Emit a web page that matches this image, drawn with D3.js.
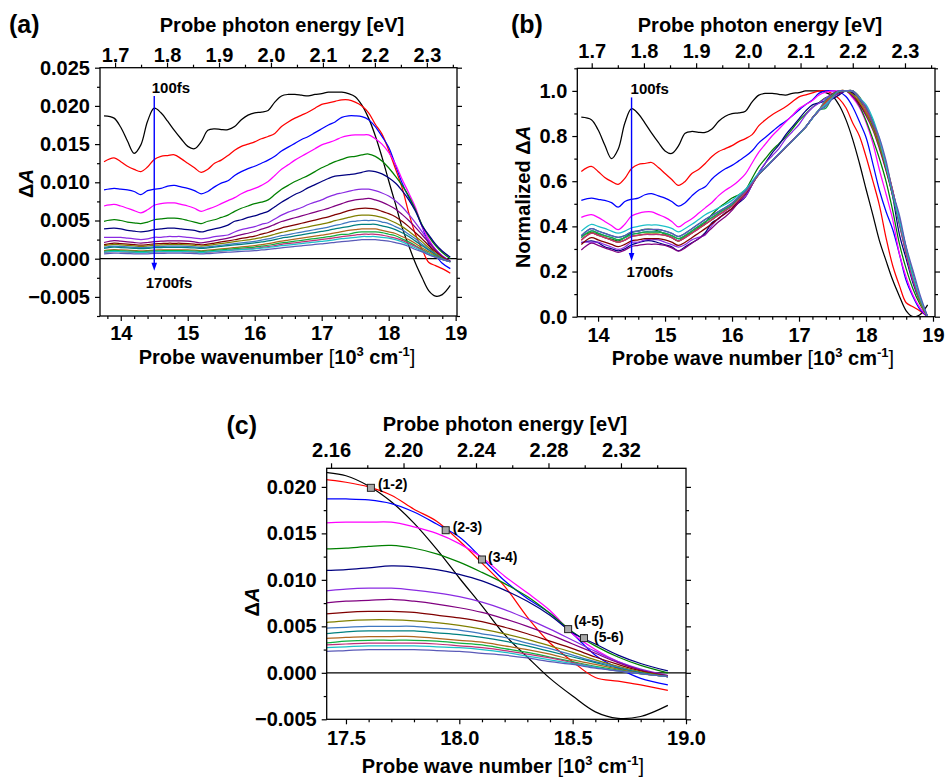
<!DOCTYPE html>
<html>
<head>
<meta charset="utf-8">
<script src="https://cdn.jsdelivr.net/npm/d3@7"></script>
<style>
  body { margin: 0; background: #fff; }
  svg text { font-family: "Liberation Sans", Arial, Helvetica, sans-serif; font-weight: bold; fill: #000; }
</style>
</head>
<body>
<svg id="fig" width="946" height="778"></svg>
<script>
// ---------- data ----------
// probe wavenumber grid, 10^3 cm^-1
const wavenumber = [13.75, 13.9, 14.0, 14.1, 14.2, 14.3, 14.4, 14.5, 14.6, 14.7, 14.8, 14.9, 15.0, 15.1, 15.2, 15.3, 15.4, 15.5, 15.6,
  15.7, 15.8, 15.9, 16.0, 16.1, 16.2, 16.3, 16.4, 16.5, 16.6, 16.7, 16.8, 16.9, 17.0, 17.1, 17.2, 17.3,
  17.4, 17.5, 17.6, 17.7, 17.8, 17.9, 18.0, 18.1, 18.2, 18.3, 18.4, 18.5, 18.6, 18.7, 18.8, 18.92];

// transient absorption ΔA (×10^-3) for each pump-probe delay
const dA100 = [18.7, 18.4, 17.2, 15.4, 13.8, 14.9, 18.0, 19.7, 19.1, 18.0, 16.8, 15.7, 14.7, 14.4, 15.3, 16.8, 17.0, 16.9, 16.9,
  17.3, 18.2, 18.8, 19.1, 19.2, 19.4, 20.5, 21.3, 21.5, 21.5, 21.4, 21.3, 21.5, 21.6, 21.8, 21.8, 21.8,
  21.6, 21.2, 20.1, 18.4, 16.1, 13.3, 10.2, 7.2, 4.1, 1.7, -0.6, -2.5, -4.2, -4.9, -4.7, -3.5];
const dA200 = [12.7, 13.2, 12.7, 12.1, 11.7, 11.4, 12.0, 13.0, 13.4, 13.5, 13.6, 13.1, 12.5, 11.9, 11.3, 11.7, 12.5, 12.9, 13.5,
  14.2, 14.7, 15.0, 15.3, 15.7, 16.0, 16.4, 17.3, 17.9, 18.4, 18.8, 19.2, 19.7, 20.2, 20.4, 20.6, 20.8,
  20.8, 20.5, 20.0, 19.1, 17.6, 16.3, 14.2, 11.8, 9.3, 6.0, 3.2, 1.2, -0.5, -0.9, -1.3, -1.9];
const dA300 = [9.0, 9.2, 9.1, 9.0, 8.8, 8.4, 8.9, 9.1, 9.2, 9.5, 9.6, 9.4, 9.2, 8.9, 8.5, 8.8, 9.4, 9.9, 10.2,
  10.9, 11.4, 11.8, 12.1, 12.5, 12.9, 13.4, 14.1, 14.6, 15.1, 15.6, 16.0, 16.5, 17.0, 17.5, 17.9, 18.5,
  18.7, 18.7, 18.6, 18.2, 17.3, 16.0, 14.6, 12.3, 9.9, 8.0, 6.4, 4.2, 1.9, 0.5, -0.6, -1.3];
const dA400 = [6.9, 7.1, 6.9, 6.6, 6.3, 6.0, 6.4, 7.0, 7.2, 7.3, 7.3, 7.1, 6.9, 6.6, 6.2, 6.5, 6.8, 7.2, 7.6,
  8.0, 8.5, 8.9, 9.2, 9.6, 10.1, 10.9, 11.7, 12.3, 12.9, 13.4, 13.9, 14.4, 14.9, 15.2, 15.5, 15.9,
  16.1, 16.2, 16.2, 16.2, 15.7, 15.0, 13.9, 12.4, 10.4, 8.6, 6.7, 4.2, 2.5, 1.2, 0.3, -0.4];
const dA500 = [4.9, 5.1, 5.0, 4.8, 4.7, 4.6, 4.8, 5.1, 5.2, 5.3, 5.3, 5.2, 5.0, 4.8, 4.6, 4.9, 5.1, 5.4, 5.7,
  6.2, 6.6, 6.9, 7.2, 7.4, 7.7, 8.4, 9.1, 9.6, 10.1, 10.5, 10.9, 11.4, 11.9, 12.3, 12.7, 13.0,
  13.3, 13.4, 13.6, 13.7, 13.4, 12.8, 11.9, 10.8, 9.6, 8.2, 6.4, 4.4, 2.9, 1.7, 0.8, 0.0];
const dA600 = [3.9, 4.0, 3.9, 3.7, 3.6, 3.5, 3.6, 3.8, 3.9, 4.0, 4.0, 3.9, 3.8, 3.7, 3.5, 3.7, 3.9, 4.1, 4.4,
  4.9, 5.1, 5.4, 5.6, 5.9, 6.2, 6.8, 7.4, 7.9, 8.4, 8.8, 9.3, 9.7, 10.1, 10.5, 10.8, 10.9,
  11.0, 11.1, 11.3, 11.5, 11.4, 11.1, 10.6, 9.9, 8.9, 7.7, 6.2, 4.3, 3.1, 1.9, 1.0, 0.2];
const dA700 = [2.8, 2.8, 2.8, 2.7, 2.6, 2.5, 2.6, 2.8, 2.8, 2.9, 2.9, 2.9, 2.8, 2.7, 2.6, 2.7, 2.9, 3.0, 3.1,
  3.5, 3.8, 4.0, 4.2, 4.5, 4.7, 5.2, 5.7, 6.1, 6.4, 6.7, 7.1, 7.4, 7.7, 8.1, 8.4, 8.6,
  8.8, 9.0, 9.1, 9.1, 8.9, 8.6, 8.2, 7.6, 6.8, 5.8, 4.7, 3.5, 2.3, 1.2, 0.4, -0.3];
const dA800 = [2.12, 2.37, 2.29, 2.20, 2.12, 2.04, 2.12, 2.25, 2.29, 2.33, 2.33, 2.33, 2.29, 2.20, 2.08, 2.20, 2.37, 2.53, 2.70,
  2.92, 3.15, 3.33, 3.56, 3.86, 4.13, 4.50, 4.87, 5.11, 5.36, 5.60, 5.85, 6.10, 6.34, 6.59, 6.92, 7.20,
  7.5, 7.7, 7.8, 7.9, 7.7, 7.4, 7.0, 6.5, 5.8, 5.0, 4.1, 3.1, 2.1, 1.1, 0.3, -0.3];
const dA900 = [1.84, 2.05, 1.98, 1.91, 1.84, 1.77, 1.84, 1.95, 1.98, 2.02, 2.02, 2.02, 1.98, 1.91, 1.81, 1.91, 2.05, 2.19, 2.33,
  2.48, 2.65, 2.80, 2.96, 3.21, 3.43, 3.73, 4.01, 4.22, 4.43, 4.64, 4.85, 5.06, 5.27, 5.48, 5.76, 6.01,
  6.3, 6.5, 6.6, 6.6, 6.5, 6.2, 5.9, 5.5, 4.9, 4.2, 3.4, 2.6, 1.7, 0.9, 0.2, -0.4];
const dA1000 = [1.67, 1.86, 1.80, 1.74, 1.67, 1.61, 1.67, 1.77, 1.80, 1.83, 1.83, 1.83, 1.80, 1.74, 1.64, 1.74, 1.86, 1.98, 2.10,
  2.22, 2.35, 2.47, 2.59, 2.77, 2.96, 3.20, 3.44, 3.63, 3.81, 3.99, 4.18, 4.36, 4.54, 4.72, 4.97, 5.18,
  5.4, 5.6, 5.7, 5.7, 5.6, 5.4, 5.1, 4.7, 4.2, 3.6, 2.9, 2.2, 1.4, 0.7, 0.1, -0.4];
const dA1100 = [1.49, 1.65, 1.60, 1.54, 1.49, 1.44, 1.49, 1.57, 1.60, 1.63, 1.63, 1.63, 1.60, 1.54, 1.46, 1.54, 1.65, 1.76, 1.87,
  1.97, 2.07, 2.18, 2.28, 2.44, 2.59, 2.80, 3.01, 3.16, 3.33, 3.49, 3.65, 3.81, 3.97, 4.14, 4.35, 4.54,
  4.8, 4.9, 5.0, 5.0, 5.0, 4.8, 4.6, 4.2, 3.8, 3.2, 2.6, 1.9, 1.2, 0.6, 0.0, -0.4];
const dA1200 = [1.36, 1.51, 1.46, 1.41, 1.36, 1.32, 1.36, 1.44, 1.46, 1.49, 1.49, 1.49, 1.46, 1.41, 1.34, 1.41, 1.51, 1.61, 1.71,
  1.80, 1.88, 1.97, 2.06, 2.20, 2.32, 2.51, 2.70, 2.83, 2.98, 3.13, 3.28, 3.42, 3.57, 3.72, 3.91, 4.08,
  4.2, 4.4, 4.5, 4.5, 4.5, 4.3, 4.1, 3.8, 3.4, 2.9, 2.3, 1.7, 1.1, 0.5, 0.0, -0.4];
const dA1300 = [1.06, 1.19, 1.15, 1.11, 1.06, 1.02, 1.06, 1.13, 1.15, 1.17, 1.17, 1.17, 1.15, 1.11, 1.04, 1.11, 1.19, 1.28, 1.36,
  1.45, 1.54, 1.62, 1.71, 1.84, 1.97, 2.14, 2.31, 2.44, 2.57, 2.70, 2.83, 2.95, 3.08, 3.21, 3.38, 3.53,
  3.7, 3.8, 3.9, 3.9, 3.9, 3.7, 3.5, 3.3, 2.9, 2.5, 2.0, 1.4, 0.9, 0.4, -0.1, -0.4];
const dA1400 = [0.97, 1.08, 1.04, 1.00, 0.97, 0.93, 0.97, 1.02, 1.04, 1.06, 1.06, 1.06, 1.04, 1.00, 0.95, 1.00, 1.08, 1.16, 1.24,
  1.31, 1.39, 1.46, 1.53, 1.65, 1.76, 1.91, 2.06, 2.17, 2.29, 2.41, 2.53, 2.64, 2.76, 2.88, 3.03, 3.17,
  3.2, 3.4, 3.5, 3.5, 3.5, 3.4, 3.2, 3.0, 2.6, 2.2, 1.7, 1.2, 0.7, 0.3, -0.1, -0.4];
const dA1500 = [0.82, 0.93, 0.90, 0.86, 0.82, 0.79, 0.82, 0.88, 0.90, 0.91, 0.91, 0.91, 0.90, 0.86, 0.81, 0.86, 0.93, 1.00, 1.08,
  1.15, 1.22, 1.29, 1.36, 1.47, 1.58, 1.72, 1.87, 1.98, 2.08, 2.19, 2.30, 2.41, 2.52, 2.62, 2.77, 2.89,
  3.0, 3.1, 3.2, 3.2, 3.2, 3.1, 2.9, 2.7, 2.4, 2.0, 1.6, 1.1, 0.6, 0.2, -0.1, -0.4];
const dA1600 = [0.85, 0.95, 0.92, 0.89, 0.85, 0.82, 0.85, 0.90, 0.92, 0.94, 0.94, 0.94, 0.92, 0.89, 0.84, 0.89, 0.95, 1.02, 1.09,
  1.14, 1.19, 1.24, 1.30, 1.38, 1.46, 1.58, 1.70, 1.78, 1.88, 1.98, 2.08, 2.17, 2.27, 2.37, 2.50, 2.62,
  2.7, 2.8, 2.9, 2.9, 2.9, 2.8, 2.7, 2.5, 2.2, 1.8, 1.4, 1.0, 0.6, 0.2, -0.1, -0.4];
const dA1700 = [0.64, 0.73, 0.70, 0.67, 0.64, 0.62, 0.64, 0.69, 0.70, 0.72, 0.72, 0.72, 0.70, 0.67, 0.63, 0.67, 0.73, 0.79, 0.85,
  0.90, 0.95, 1.00, 1.06, 1.14, 1.21, 1.32, 1.43, 1.51, 1.60, 1.69, 1.78, 1.86, 1.95, 2.04, 2.15, 2.25,
  2.3, 2.4, 2.5, 2.5, 2.5, 2.4, 2.3, 2.1, 1.9, 1.6, 1.2, 0.9, 0.5, 0.2, -0.1, -0.4];

const delays = [100, 200, 300, 400, 500, 600, 700, 800, 900, 1000, 1100, 1200, 1300, 1400, 1500, 1600, 1700];
const traces = [dA100, dA200, dA300, dA400, dA500, dA600, dA700, dA800, dA900, dA1000, dA1100, dA1200, dA1300, dA1400, dA1500, dA1600, dA1700];
const traceColors = ["#000000", "#ff0000", "#0000ff", "#ff00ff", "#008000", "#000080", "#8a2be2", "#800080",
  "#800000", "#808000", "#3f78c0", "#008080", "#b0651e", "#10b040", "#c0307a", "#1cc0c8", "#5a5ab8"];

// crossing points between consecutive traces (panel c)
const crossLabels = ["(1-2)", "(2-3)", "(3-4)", "(4-5)", "(5-6)"];
const crossWavenumber = [17.61, 17.94, 18.10, 18.48, 18.55];
const crossDA = [0.0199, 0.01534, 0.01219, 0.0047, 0.00373];

// tick labels
const ticksWn = [14, 15, 16, 17, 18, 19];
const ticksEv = [1.7, 1.8, 1.9, 2.0, 2.1, 2.2, 2.3];
const ticksDA = [-0.005, 0, 0.005, 0.010, 0.015, 0.020, 0.025];
const ticksNorm = [0, 0.2, 0.4, 0.6, 0.8, 1.0];
const ticksWnC = [17.5, 18.0, 18.5, 19.0];
const ticksEvC = [2.16, 2.20, 2.24, 2.28, 2.32];
const ticksDAC = [-0.005, 0, 0.005, 0.010, 0.015, 0.020];

// ---------- derived series ----------
const series = traces.map((arr, i) => {
  const pts = wavenumber.map((w, j) => ({ w, v: arr[j] / 1000 }));
  const lo = d3.min(pts, d => d.v), hi = d3.max(pts, d => d.v);
  return {
    delay: delays[i],
    color: traceColors[i],
    pts,
    norm: pts.map(d => ({ w: d.w, v: (d.v - lo) / (hi - lo) }))
  };
});
const crossings = crossLabels.map((label, i) => ({ label, w: crossWavenumber[i], v: crossDA[i] }));

// ---------- drawing helpers ----------
const svg = d3.select("#fig");
const FONT = "'Liberation Sans', Arial, Helvetica, sans-serif";

function minorTicks(domain, step, majors) {
  const a = Math.min(domain[0], domain[1]), b = Math.max(domain[0], domain[1]);
  const out = [];
  for (let k = Math.ceil(a / step - 1e-6); k * step <= b + 1e-9; k++) {
    const t = +(k * step).toFixed(6);
    if (!majors.some(m => Math.abs(m - t) < step / 10)) out.push(t);
  }
  return out;
}

function styleAxis(ga) {
  ga.selectAll(".domain").remove();
  ga.selectAll("line").attr("stroke", "#000").attr("stroke-width", 1.2);
  ga.selectAll("text")
    .attr("font-family", FONT).attr("font-weight", "bold")
    .attr("font-size", 20).attr("fill", "#000");
}

function addAxis(g, axisFn, scale, majors, minorStep, fmt, pad, tx, ty) {
  const ga = g.append("g").attr("transform", `translate(${tx},${ty})`);
  ga.call(axisFn(scale).tickValues(majors).tickSize(5).tickPadding(pad).tickFormat(fmt));
  ga.append("g").call(axisFn(scale).tickValues(minorTicks(scale.domain(), minorStep, majors)).tickSize(3).tickFormat(""));
  styleAxis(ga);
  return ga;
}

function wavenumberTitle(sel, words) {
  sel.append("tspan").text(words + " ");
  sel.append("tspan").attr("font-weight", "normal").text("[");
  sel.append("tspan").text("10");
  sel.append("tspan").attr("font-size", 13).attr("dy", -8).text("3");
  sel.append("tspan").attr("dy", 8).text(" cm");
  sel.append("tspan").attr("font-size", 13).attr("dy", -8).text("-1");
  sel.append("tspan").attr("dy", 8).attr("font-weight", "normal").text("]");
}

function deltaA(sel, prefix) {
  if (prefix) sel.append("tspan").text(prefix);
  sel.append("tspan").text("\u0394");
  sel.append("tspan").attr("font-style", "italic").text("A");
}

function makePanel(cfg) {
  const w = cfg.right - cfg.left, h = cfg.bottom - cfg.top;
  const g = svg.append("g").attr("transform", `translate(${cfg.left},${cfg.top})`);
  const x = d3.scaleLinear().domain(cfg.xDomain).range([0, w]);
  const y = d3.scaleLinear().domain(cfg.yDomain).range([h, 0]);
  const xTop = d3.scaleLinear().domain(cfg.topDomain).range([0, w]);

  g.append("clipPath").attr("id", "clip-" + cfg.name)
    .append("rect").attr("width", w).attr("height", h);
  const plot = g.append("g").attr("clip-path", `url(#clip-${cfg.name})`);

  addAxis(g, d3.axisBottom, x, cfg.xTicks, cfg.xMinor, cfg.xFmt, cfg.padBottom, 0, h);
  addAxis(g, d3.axisTop, xTop, cfg.topTicks, cfg.topMinor, cfg.topFmt, cfg.padTop, 0, 0);
  addAxis(g, d3.axisLeft, y, cfg.yTicks, cfg.yMinor, cfg.yFmt, 5, 0, 0);
  addAxis(g, d3.axisRight, y, cfg.yTicks, cfg.yMinor, () => "", 5, w, 0);

  g.append("rect").attr("width", w).attr("height", h)
    .attr("fill", "none").attr("stroke", "#000").attr("stroke-width", 1.3);

  return { g, plot, x, y, w, h };
}

function drawTraces(p, key) {
  const line = d3.line()
    .x(d => p.x(d.w)).y(d => p.y(d.v))
    .curve(d3.curveCatmullRom.alpha(0.5));
  p.plot.selectAll("path.trace").data(series).join("path")
    .attr("class", "trace")
    .attr("d", s => line(s[key]))
    .attr("fill", "none")
    .attr("stroke", s => s.color)
    .attr("stroke-width", 1.25)
    .attr("stroke-linejoin", "round");
}

function zeroLine(p) {
  p.plot.append("line")
    .attr("x1", 0).attr("x2", p.w)
    .attr("y1", p.y(0)).attr("y2", p.y(0))
    .attr("stroke", "#000").attr("stroke-width", 1.2);
}

function delayArrow(p, w, from, to, topLabel, bottomLabel) {
  const xa = p.x(w), y0 = p.y(from), y1 = p.y(to);
  p.g.append("line").attr("x1", xa).attr("x2", xa).attr("y1", y0).attr("y2", y1 - 6)
    .attr("stroke", "#0000ff").attr("stroke-width", 1.4);
  p.g.append("path")
    .attr("d", `M${xa - 2.8},${y1 - 8}L${xa + 2.8},${y1 - 8}L${xa},${y1}Z`)
    .attr("fill", "#0000ff");
  p.g.append("text").attr("x", xa + topLabel.dx).attr("y", y0 + topLabel.dy)
    .attr("font-size", 15).text(topLabel.text);
  p.g.append("text").attr("x", xa + bottomLabel.dx).attr("y", y1 + bottomLabel.dy)
    .attr("font-size", 15).text(bottomLabel.text);
}

const fmt3 = d3.format(".3f");
const fmt1 = d3.format(".1f");
const fmt2 = d3.format(".2f");
const fmt0 = d3.format("d");

// ---------- panel (a): ΔA spectra ----------
const pa = makePanel({
  name: "a", left: 100, right: 457, top: 67.7, bottom: 316,
  xDomain: [13.69, 19.02], yDomain: [-0.0075, 0.025], topDomain: [1.671, 2.358],
  xTicks: ticksWn, xMinor: 0.2, xFmt: fmt0, padBottom: 5,
  topTicks: ticksEv, topMinor: 0.05, topFmt: fmt1, padTop: 1,
  yTicks: ticksDA, yMinor: 0.0025, yFmt: fmt3
});
zeroLine(pa);
drawTraces(pa, "pts");
delayArrow(pa, 14.5, 0.0213, -0.00157,
  { text: "100fs", dx: -2.5, dy: -3 }, { text: "1700fs", dx: -8.5, dy: 17 });

// ---------- panel (b): normalized spectra ----------
const pb = makePanel({
  name: "b", left: 577.3, right: 935, top: 68.3, bottom: 316.7,
  xDomain: [13.69, 19.03], yDomain: [0, 1.1], topDomain: [1.6724, 2.3575],
  xTicks: ticksWn, xMinor: 0.2, xFmt: fmt0, padBottom: 6,
  topTicks: ticksEv, topMinor: 0.05, topFmt: fmt1, padTop: 5,
  yTicks: ticksNorm, yMinor: 0.1, yFmt: fmt1
});
drawTraces(pb, "norm");
delayArrow(pb, 14.5, 0.971, 0.2465,
  { text: "100fs", dx: -1, dy: -3 }, { text: "1700fs", dx: -5, dy: 16 });

// ---------- panel (c): zoom on the high-energy edge ----------
const pc = makePanel({
  name: "c", left: 326.7, right: 686, top: 468.3, bottom: 719.3,
  xDomain: [17.415, 19.0], yDomain: [-0.005, 0.022], topDomain: [2.1576, 2.3559],
  xTicks: ticksWnC, xMinor: 0.1, xFmt: fmt1, padBottom: 6.5,
  topTicks: ticksEvC, topMinor: 0.02, topFmt: fmt2, padTop: 6,
  yTicks: ticksDAC, yMinor: 0.0025, yFmt: fmt3
});
zeroLine(pc);
drawTraces(pc, "pts");

// crossing markers and their labels
const crossLabelOffset = [[7, 1], [7, 2], [6, 3], [6, -3], [10, 4]];
pc.g.selectAll("rect.cross").data(crossings).join("rect")
  .attr("class", "cross")
  .attr("x", d => pc.x(d.w) - 3.5).attr("y", d => pc.y(d.v) - 3.5)
  .attr("width", 7).attr("height", 7)
  .attr("fill", "#a8a8a8").attr("stroke", "#222").attr("stroke-width", 1);
pc.g.selectAll("text.cross").data(crossings).join("text")
  .attr("class", "cross")
  .attr("x", (d, i) => pc.x(d.w) + crossLabelOffset[i][0])
  .attr("y", (d, i) => pc.y(d.v) + crossLabelOffset[i][1])
  .attr("font-size", 14)
  .text(d => d.label);

// ---------- titles ----------
function title(x, y, rotate) {
  const t = svg.append("text").attr("text-anchor", "middle").attr("font-size", 20);
  if (rotate) t.attr("transform", `translate(${x},${y}) rotate(-90)`).attr("dominant-baseline", "central");
  else t.attr("x", x).attr("y", y);
  return t;
}

title(282, 31.7).text("Probe photon energy [eV]");
wavenumberTitle(title(277, 364), "Probe wavenumber");
deltaA(title(26, 183.5, true));

title(760, 32).text("Probe photon energy [eV]");
wavenumberTitle(title(753, 365), "Probe wave number");
deltaA(title(523, 197, true), "Normalized ");

title(505, 430.7).text("Probe photon energy [eV]");
wavenumberTitle(title(503, 772.7), "Probe wave number");
deltaA(title(251.5, 602, true));

// panel letters
svg.append("text").attr("x", 9).attr("y", 33).attr("font-size", 25).text("(a)");
svg.append("text").attr("x", 511).attr("y", 33).attr("font-size", 25).text("(b)");
svg.append("text").attr("x", 226.5).attr("y", 434).attr("font-size", 25).text("(c)");
</script>
</body>
</html>
